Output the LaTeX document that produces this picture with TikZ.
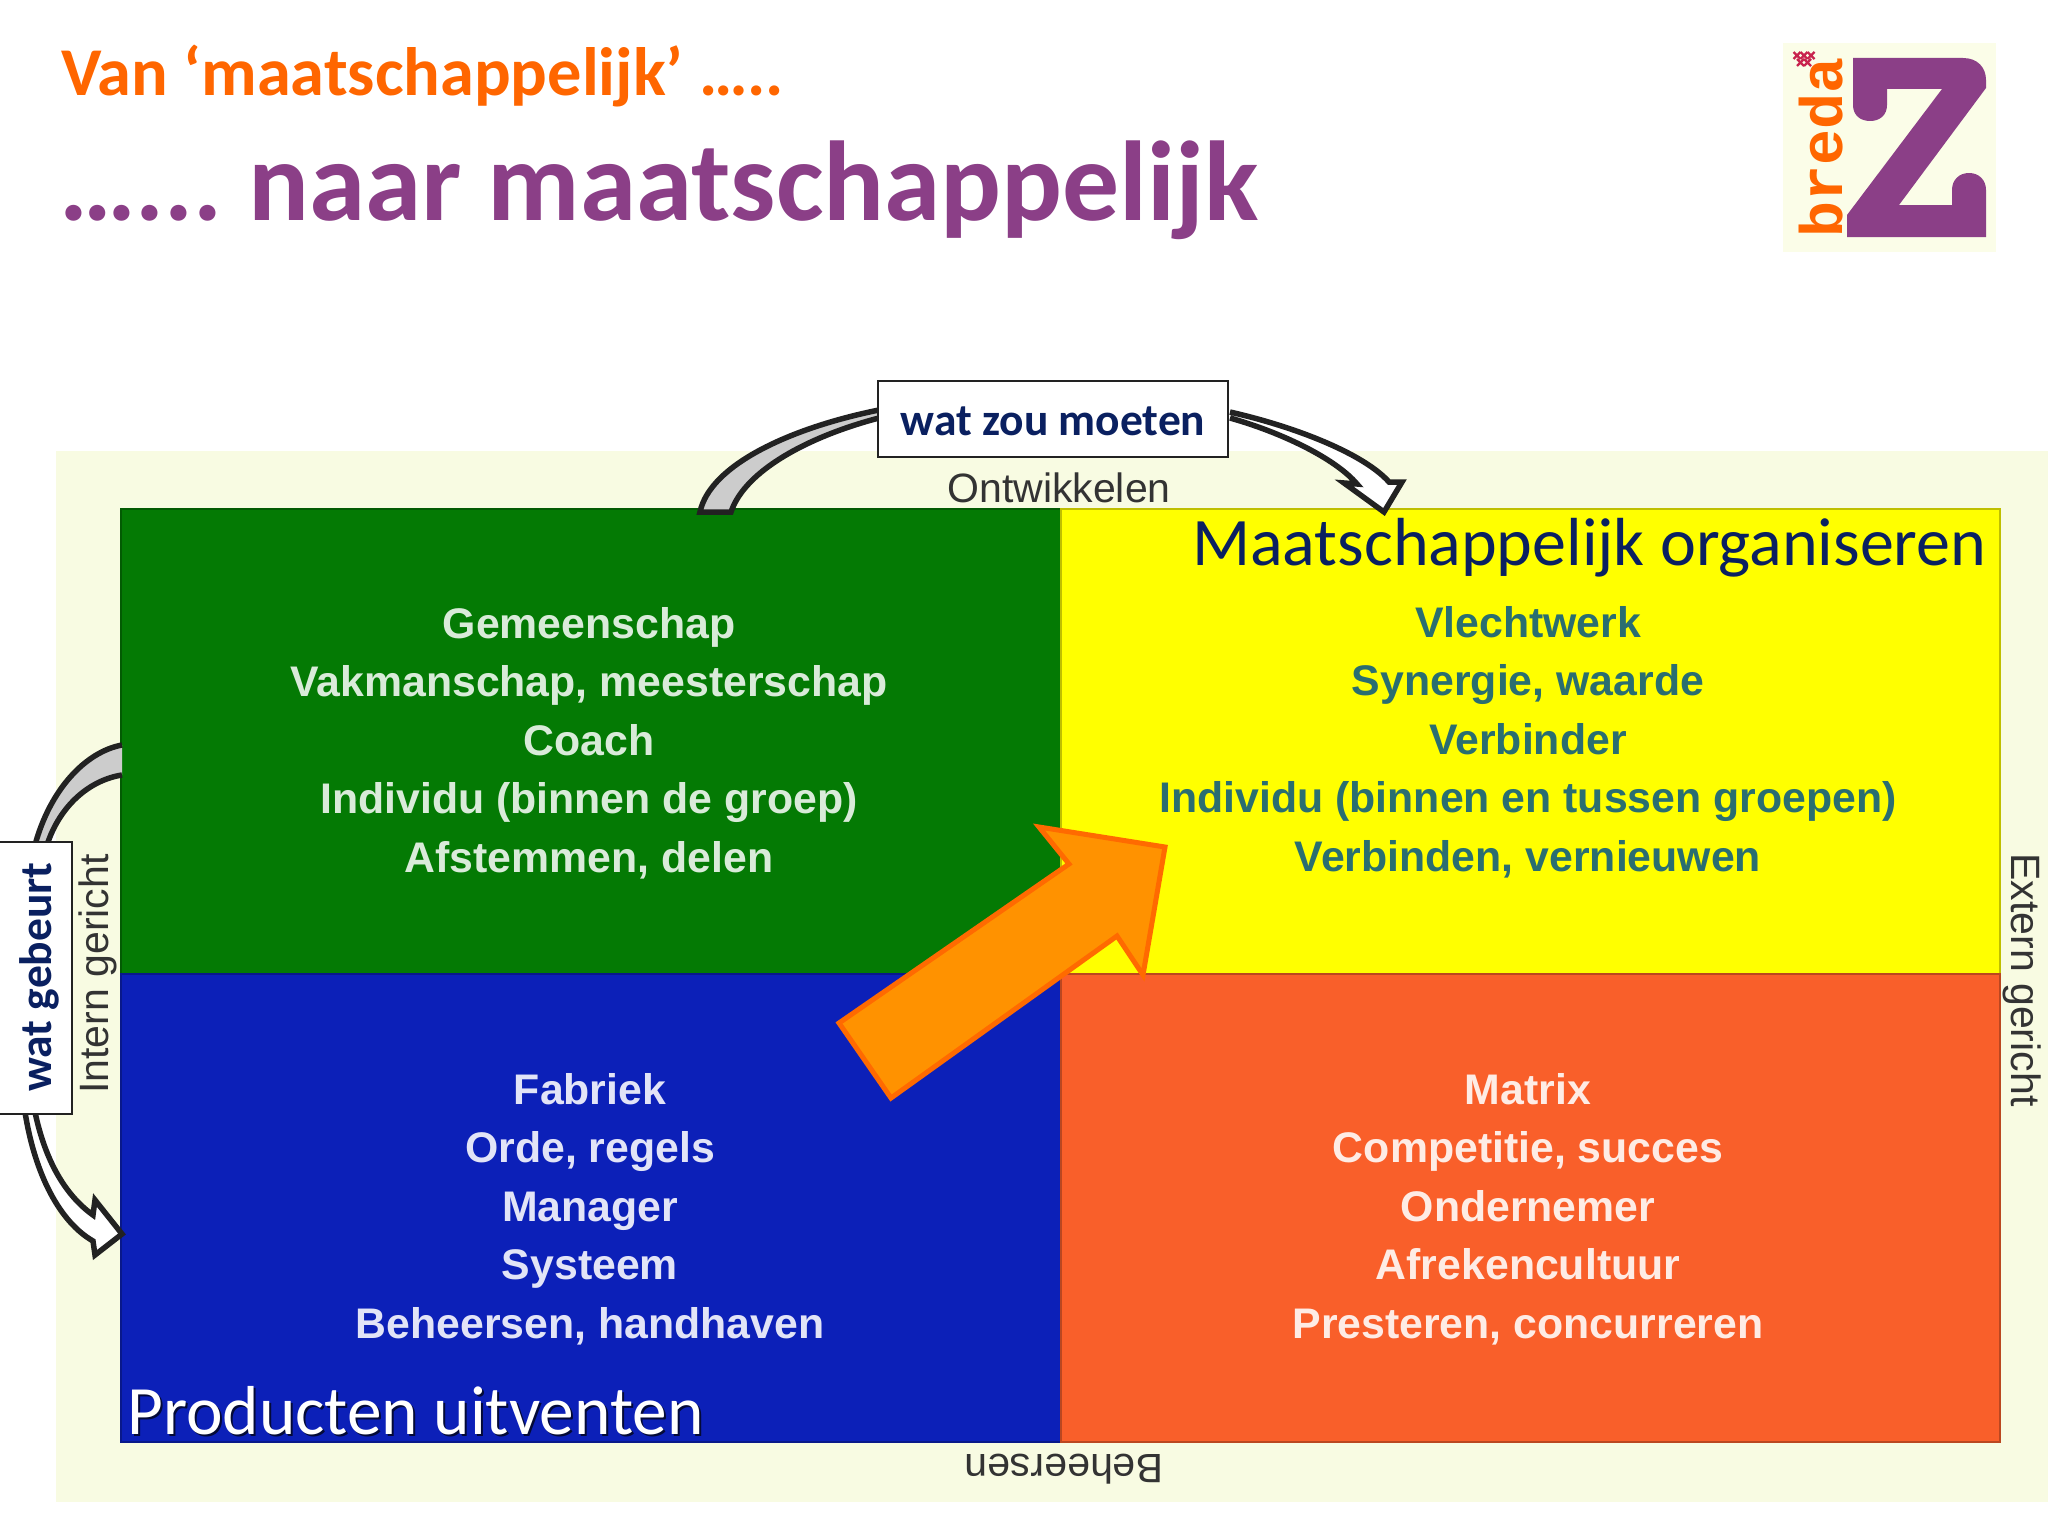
\documentclass[tikz,border=0pt]{standalone}
\usepackage{fontspec}
\setmainfont{Carlito}
\newfontfamily\quadfont{Liberation Sans}
\newfontfamily\monofont{Liberation Mono}
\definecolor{paleback}{HTML}{F8FBE2}
\definecolor{logoback}{HTML}{FBFDE8}
\definecolor{titleorange}{HTML}{FF6600}
\definecolor{titlepurple}{HTML}{8B3F87}
\definecolor{quadgreen}{HTML}{047A04}
\definecolor{quadblue}{HTML}{0C20B8}
\definecolor{quadyellow}{HTML}{FFFF00}
\definecolor{quadorange}{HTML}{F95F2A}
\definecolor{navytext}{HTML}{0A2060}
\definecolor{tealtext}{HTML}{2A6E70}
\definecolor{axistext}{HTML}{333333}
\definecolor{arrowline}{HTML}{222222}
\definecolor{arrowgray}{HTML}{CCCCCC}
\definecolor{bigfill}{HTML}{FF9200}
\definecolor{bigline}{HTML}{FF6A00}
\definecolor{crimson}{HTML}{C8234E}
\tikzset{
  quadfill/.style={draw=#1!75!black,line width=1.5pt,fill=#1},
  quadtext/.style={font=\quadfont\bfseries\fontsize{42.8}{58.5}\selectfont,align=center,inner sep=0pt,text=white},
  axislabel/.style={font=\quadfont\fontsize{41}{46}\selectfont,text=axistext,inner sep=0pt},
  statebox/.style={draw=arrowline,line width=2pt,fill=white,inner sep=0pt},
  stateword/.style={font=\bfseries\fontsize{45.5}{50}\selectfont,text=navytext,inner sep=0pt},
  grayblock/.style={draw=arrowline,line width=5.5pt,fill=arrowgray,line join=miter},
  whiteblock/.style={draw=arrowline,line width=5.5pt,fill=white,line join=miter},
  headline/.style={font=\bfseries,inner sep=0pt,anchor=base west}
}
\begin{document}
\begin{tikzpicture}[x=1pt,y=-1pt]
\useasboundingbox (0,0) rectangle (2048,1536);
\fill[white] (0,0) rectangle (2048,1536);
% titles
\node[headline,text=titleorange,font=\bfseries\fontsize{68.4}{72}\selectfont] (title1) at (61,96) {Van ‘maatschappelijk’ …..};
\node[headline,text=titlepurple,font=\bfseries\fontsize{113.6}{120}\selectfont] (title2) at (59,220) {{\fontsize{108}{120}\selectfont …...}\hspace{26pt}naar maatschappelijk};
% logo
\fill[logoback] (1783,43) rectangle (1996,252);
\fill[titlepurple] (1853,58) -- (1963,58) .. controls (1978,58) and (1986,68) .. (1986,80) -- (1986,88) -- (1899,205) -- (1952,205) -- (1952,190) .. controls (1952,180) and (1959,173) .. (1969,173) .. controls (1979,173) and (1986,180) .. (1986,190) -- (1986,237) -- (1847,237) -- (1847,215) -- (1942,89) -- (1887,89) -- (1887,105) .. controls (1887,115) and (1880,121) .. (1870,121) .. controls (1860,121) and (1853,115) .. (1853,105) -- cycle;
\node[font=\monofont\bfseries\fontsize{60}{62}\selectfont,text=titleorange,rotate=90,anchor=base,inner sep=0pt] (logoword) at (1842,147) {breda};
\foreach \cx in {1797,1804,1811}{
  \draw[crimson,line width=2.4pt] (\cx-3.5,52) -- (\cx+3.5,59) (\cx-3.5,59) -- (\cx+3.5,52);
}
\foreach \cx in {1800.5,1807.5}{
  \draw[crimson,line width=2.4pt] (\cx-3.5,59) -- (\cx+3.5,66) (\cx-3.5,66) -- (\cx+3.5,59);
}
% background and quadrants
\fill[paleback] (56,451) rectangle (2048,1502);
\path[quadfill=quadgreen] (121,509) rectangle (1061,974);
\path[quadfill=quadyellow] (1061,509) rectangle (2000,974);
\path[quadfill=quadblue] (121,974) rectangle (1061,1442);
\path[quadfill=quadorange] (1061,974) rectangle (2000,1442);
% quadrant texts
\node[quadtext,text=white!85!quadgreen] (qa) at (589,743) {Gemeenschap\\Vakmanschap, meesterschap\\Coach\\Individu (binnen de groep)\\Afstemmen, delen};
\node[quadtext,text=tealtext] (qb) at (1528,742) {Vlechtwerk\\Synergie, waarde\\Verbinder\\Individu (binnen en tussen groepen)\\Verbinden, vernieuwen};
\node[quadtext,text=white!88!quadblue] (qc) at (590,1209) {Fabriek\\Orde, regels\\Manager\\Systeem\\Beheersen, handhaven};
\node[quadtext,text=white!88!quadorange] (qd) at (1528,1209) {Matrix\\Competitie, succes\\Ondernemer\\Afrekencultuur\\Presteren, concurreren};
% axes
\node[axislabel] (ontw) at (1059,488) {Ontwikkelen};
\node[axislabel,rotate=180] (beh) at (1064,1469) {Beheersen};
\node[axislabel,rotate=90] (intern) at (98,974) {Intern gericht};
\node[axislabel,rotate=-90] (extern) at (2022,980) {Extern gericht};
% headings in the quadrants
\node[headline,text=navytext,font=\fontsize{68}{72}\selectfont] (mo) at (1192,565) {Maatschappelijk organiseren};
\node[headline,text=black!70!quadblue,font=\fontsize{69.3}{72}\selectfont] at (129,1436) {Producten uitventen};
\node[headline,text=white,font=\fontsize{69.3}{72}\selectfont] (pu) at (127,1434) {Producten uitventen};
% big arrow
\draw[fill=bigfill,draw=bigline,line width=5pt,line join=miter] (839,1023) -- (891,1098) -- (1117,936) -- (1143,975) -- (1165,847) -- (1039,827) -- (1069,864) -- cycle;
% block arrows
\draw[grayblock] (879,410) .. controls (790,428) and (710,465) .. (700,512) -- (731,512) .. controls (745,470) and (810,436) .. (879,418);
\draw[whiteblock] (1230,412) .. controls (1300,428) and (1365,455) .. (1389,482) -- (1402,482) -- (1384,512) -- (1344,483) -- (1357,484) .. controls (1335,458) and (1280,432) .. (1230,418);
\draw[grayblock] (122,745) .. controls (85,752) and (50,790) .. (35,845) -- (47,845) .. controls (60,805) and (90,780) .. (122,775);
\draw[whiteblock] (25,1112) .. controls (35,1175) and (60,1222) .. (93,1241) -- (95,1255) -- (122,1234) -- (95,1200) -- (93,1215) .. controls (65,1195) and (45,1160) .. (35,1112);
% state boxes
\node[statebox,minimum width=350pt,minimum height=76pt] (moeten) at (1053,418.5) {};
\node[stateword] (moetenw) at (1053,421) {wat zou moeten};
\node[statebox,minimum width=76pt,minimum height=272pt] (gebeurt) at (34,978) {};
\node[stateword,rotate=90] (gebeurtw) at (39,977) {wat gebeurt};
\end{tikzpicture}
\end{document}
